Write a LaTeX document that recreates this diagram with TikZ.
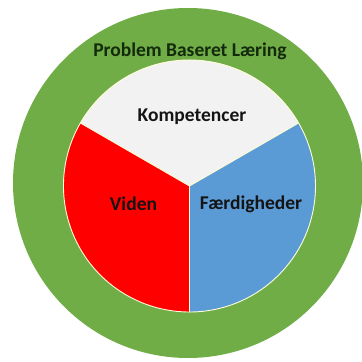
\documentclass[tikz,border=0pt]{standalone}
\usepackage{fontspec}
\setmainfont{Carlito}
\definecolor{pblgreen}{HTML}{70AD47}
\definecolor{pblred}{HTML}{FF0000}
\definecolor{pblblue}{HTML}{5B9BD5}
\definecolor{pblwhite}{HTML}{F2F2F2}
\definecolor{pbltext}{HTML}{141414}
\definecolor{pbltitle}{HTML}{142A0C}
\begin{document}
\begin{tikzpicture}[x=1pt,y=1pt,
  sector/.style={draw=white!85!yellow, line width=0.9pt},
  label/.style={font=\bfseries\fontsize{19.5}{22}\selectfont, text=pbltext, inner sep=0pt}]
  \useasboundingbox (0,0) rectangle (362,362);
  \fill[white] (0,0) rectangle (362,362);
  \begin{scope}
    \clip (0,0) rectangle (362,362);
    % outer ring
    \fill[pblgreen] (188,179) circle[radius=175];
  \end{scope}
  % three sectors around the common centre
  \coordinate (c) at (189.5,176);
  \filldraw[sector, fill=pblwhite] (c) -- ++(30:126) arc[start angle=30, end angle=150, radius=126] -- cycle;
  \filldraw[sector, fill=pblred] (c) -- ++(150:126) arc[start angle=150, end angle=270, radius=126] -- cycle;
  \filldraw[sector, fill=pblblue] (c) -- ++(270:126) arc[start angle=270, end angle=390, radius=126] -- cycle;
  % texts
  \node[label, text=pbltitle] (pbl) at (190,311) {Problem Baseret Læring};
  \node[label] (komp) at (192,245) {Kompetencer};
  \node[label] (viden) at (133.5,158) {Viden};
  \node[label] (faerd) at (251,158) {Færdigheder};
\end{tikzpicture}
\end{document}
